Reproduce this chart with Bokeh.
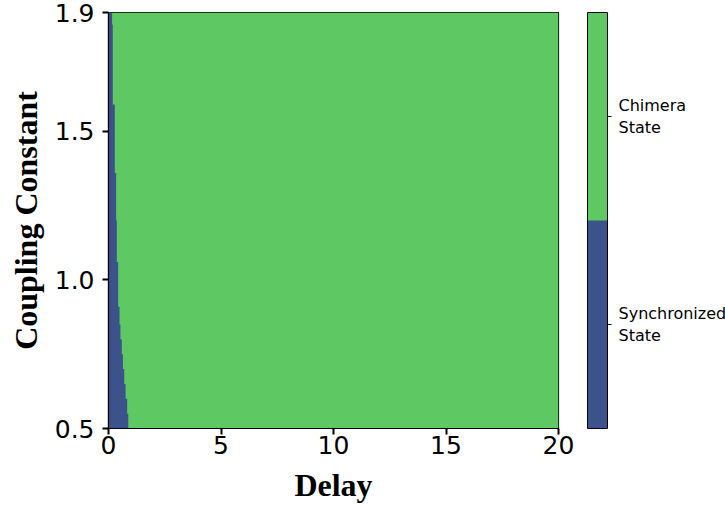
from bokeh.plotting import figure
from bokeh.models import ColorBar, LinearColorMapper, FixedTicker
from bokeh.embed import file_html
from bokeh.resources import INLINE

# Phase diagram: coupling constant vs delay
delay_range = [0, 20]
coupling_range = [0.5, 1.9]

# rows of coupling constant (lower / upper edge) and the delay up to which
# the network stays synchronized
coupling_lo = [0.50, 0.55, 0.60, 0.65, 0.70, 0.75, 0.80, 0.85, 0.91, 1.06, 1.20, 1.36, 1.59, 1.86]
coupling_hi = [0.55, 0.60, 0.65, 0.70, 0.75, 0.80, 0.85, 0.91, 1.06, 1.20, 1.36, 1.59, 1.86, 1.90]
sync_delay = [0.88, 0.83, 0.76, 0.70, 0.64, 0.59, 0.53, 0.49, 0.43, 0.37, 0.34, 0.28, 0.19, 0.16]

state_names = ["Synchronized\nState", "Chimera\nState"]
state_colors = ["#3b528b", "#5ec962"]

x_ticks = [0, 5, 10, 15, 20]
y_ticks = [0.5, 1.0, 1.5, 1.9]
y_tick_labels = ["0.5", "1.0", "1.5", "1.9"]

p = figure(width=725, height=506, output_backend="svg", toolbar_location=None,
           x_range=tuple(delay_range), y_range=tuple(coupling_range),
           min_border_left=108, min_border_right=167, min_border_top=12,
           min_border_bottom=78)

# chimera state everywhere beyond the boundary: one background block
p.quad(left=[delay_range[0]], right=[delay_range[1]],
       bottom=[coupling_range[0]], top=[coupling_range[1]],
       fill_color=state_colors[1], line_color=None)

# synchronized region: staircase outline traced along the rows
xs = [delay_range[0]]
ys = [coupling_lo[0]]
for lo, hi, d in zip(coupling_lo, coupling_hi, sync_delay):
    xs += [d, d]
    ys += [lo, hi]
xs += [delay_range[0]]
ys += [coupling_hi[-1]]
p.patch(xs, ys, fill_color=state_colors[0], line_color=None)

p.grid.visible = False
p.outline_line_color = "black"
p.outline_line_width = 1.2
p.background_fill_color = "white"

for ax in (p.xaxis[0], p.yaxis[0]):
    ax.major_label_text_font = "DejaVu Sans"
    ax.major_label_text_font_size = "25px"
    ax.major_label_text_color = "black"
    ax.axis_label_text_font = "Liberation Serif"
    ax.axis_label_text_font_style = "bold"
    ax.axis_label_text_font_size = "32px"
    ax.axis_label_text_color = "black"
    ax.major_tick_line_width = 2
    ax.major_tick_line_color = "black"
    ax.major_tick_out = 6
    ax.major_tick_in = 0
    ax.minor_tick_line_color = None
    ax.axis_line_color = "black"
    ax.axis_line_width = 1.2

p.xaxis.ticker = FixedTicker(ticks=x_ticks)
p.yaxis.ticker = FixedTicker(ticks=y_ticks)
p.yaxis.major_label_overrides = {t: l for t, l in zip(y_ticks, y_tick_labels)}
p.xaxis.major_label_standoff = 1
p.yaxis.major_label_standoff = 8
p.xaxis.axis_label = "Delay"
p.yaxis.axis_label = "Coupling Constant"
p.xaxis.axis_label_standoff = 10
p.yaxis.axis_label_standoff = 8

# two-state colour bar, set off to the right of the plot frame
mapper = LinearColorMapper(palette=state_colors, low=0, high=2)
cb = ColorBar(color_mapper=mapper, width=20, height=416,
              location=(479, 0),
              ticker=FixedTicker(ticks=[0.5, 1.5]),
              major_label_overrides={0.5: state_names[0], 1.5: state_names[1]},
              major_label_text_font="DejaVu Sans",
              major_label_text_font_size="16px",
              major_label_text_color="black",
              major_tick_line_color="black", major_tick_out=4, major_tick_in=0,
              bar_line_color="black", bar_line_width=1,
              padding=0, margin=0, label_standoff=7,
              background_fill_color=None, border_line_color=None)
p.add_layout(cb, "center")

open("out.html", "w").write(file_html(p, INLINE))
